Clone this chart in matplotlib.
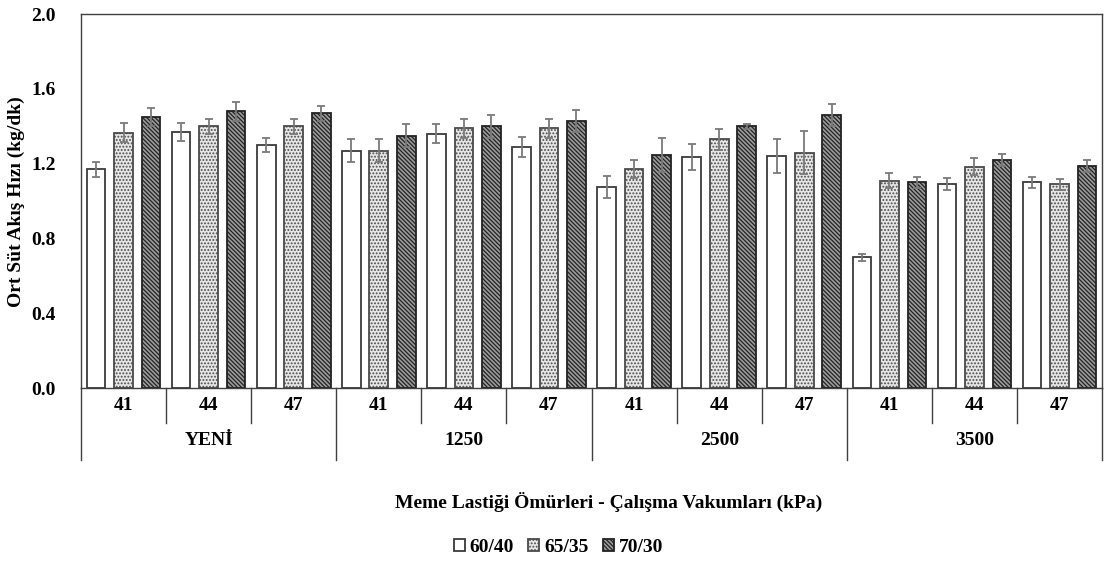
import matplotlib
matplotlib.use("Agg")
import matplotlib.pyplot as plt
import matplotlib.transforms as mtransforms
import numpy as np

plt.rcParams['font.family'] = ['Liberation Serif', 'DejaVu Serif']
plt.rcParams['font.weight'] = 'bold'
plt.rcParams['hatch.linewidth'] = 0.9

# data
groups = ["YENİ", "1250", "2500", "3500"]
vacuums = ["41", "44", "47"]
series = ["60/40", "65/35", "70/30"]

v_6040 = [1.17, 1.37, 1.30, 1.27, 1.36, 1.29, 1.075, 1.235, 1.24, 0.70, 1.09, 1.10]
v_6535 = [1.365, 1.40, 1.40, 1.27, 1.39, 1.39, 1.17, 1.33, 1.26, 1.11, 1.185, 1.09]
v_7030 = [1.45, 1.48, 1.47, 1.35, 1.40, 1.43, 1.245, 1.40, 1.46, 1.10, 1.22, 1.19]

e_6040 = [0.04, 0.05, 0.037, 0.06, 0.05, 0.052, 0.059, 0.069, 0.09, 0.02, 0.032, 0.028]
e_6535 = [0.05, 0.04, 0.04, 0.06, 0.05, 0.05, 0.048, 0.058, 0.117, 0.039, 0.043, 0.028]
e_7030 = [0.05, 0.05, 0.04, 0.062, 0.062, 0.059, 0.09, 0.012, 0.059, 0.028, 0.031, 0.032]

values = [v_6040, v_6535, v_7030]
errors = [e_6040, e_6535, e_7030]

styles = [
    dict(facecolor="white", hatch=None, edge="#3a3a3a"),
    dict(facecolor="#e6e6e6", hatch=".....", edge="#4a4a4a"),
    dict(facecolor="#9c9c9c", hatch="\\\\\\\\\\\\\\\\", edge="#222222"),
]

FS = 14

fig = plt.figure(figsize=(11.06, 5.63), dpi=100)
ax = fig.add_axes([0.0732, 0.3103, 0.9233, 0.6648])

n = len(v_6040)
x = np.arange(n)
offsets = [-0.323, 0.0, 0.323]
width = 0.22

for k in range(3):
    ax.bar(x + offsets[k], values[k], width, color=styles[k]["facecolor"],
           hatch=styles[k]["hatch"], edgecolor=styles[k]["edge"], linewidth=1.3,
           label=series[k], zorder=2)
    ax.errorbar(x + offsets[k], values[k], yerr=errors[k], fmt="none",
                ecolor="#7a7a7a", elinewidth=1.3, capsize=3, capthick=1.3, zorder=3)

ax.set_xlim(-0.5, n - 0.5)
ax.set_ylim(0, 2.0)
ticks = np.arange(0, 2.01, 0.4)
ax.set_yticks(ticks)
ax.set_yticklabels([f"{t:.1f}" for t in ticks], fontsize=FS, fontweight="bold")
ax.tick_params(axis="y", length=0, pad=18)
ax.set_xticks([])
for s in ax.spines.values():
    s.set_color("#404040")
    s.set_linewidth(1.0)

ax.set_ylabel("Ort Süt Akış Hızı (kg/dk)", fontsize=FS, fontweight="bold", labelpad=5)

# two-level category axis
trans = mtransforms.blended_transform_factory(ax.transData, ax.transAxes)
for i in range(n + 1):
    b = i - 0.5
    low = -0.192 if i % 3 == 0 else -0.093
    ax.plot([b, b], [0, low], transform=trans, color="#404040", lw=1.0, clip_on=False)
for i in range(n):
    ax.text(i, -0.045, vacuums[i % 3], transform=trans, ha="center", va="center",
            fontsize=FS, fontweight="bold")
for g, name in enumerate(groups):
    ax.text(3 * g + 1, -0.14, name, transform=trans, ha="center", va="center",
            fontsize=FS, fontweight="bold")

fig.text(0.55, 0.108, "Meme Lastiği Ömürleri - Çalışma Vakumları (kPa)", ha="center",
         va="center", fontsize=FS, fontweight="bold")

handles, labels = ax.get_legend_handles_labels()
fig.legend(handles, labels, loc="center", bbox_to_anchor=(0.505, 0.028), ncol=3,
           frameon=False, handlelength=0.56, handleheight=0.56,
           handletextpad=0.25, columnspacing=0.75, prop=dict(weight="bold", size=FS))

fig.savefig("out.png", dpi=100)
